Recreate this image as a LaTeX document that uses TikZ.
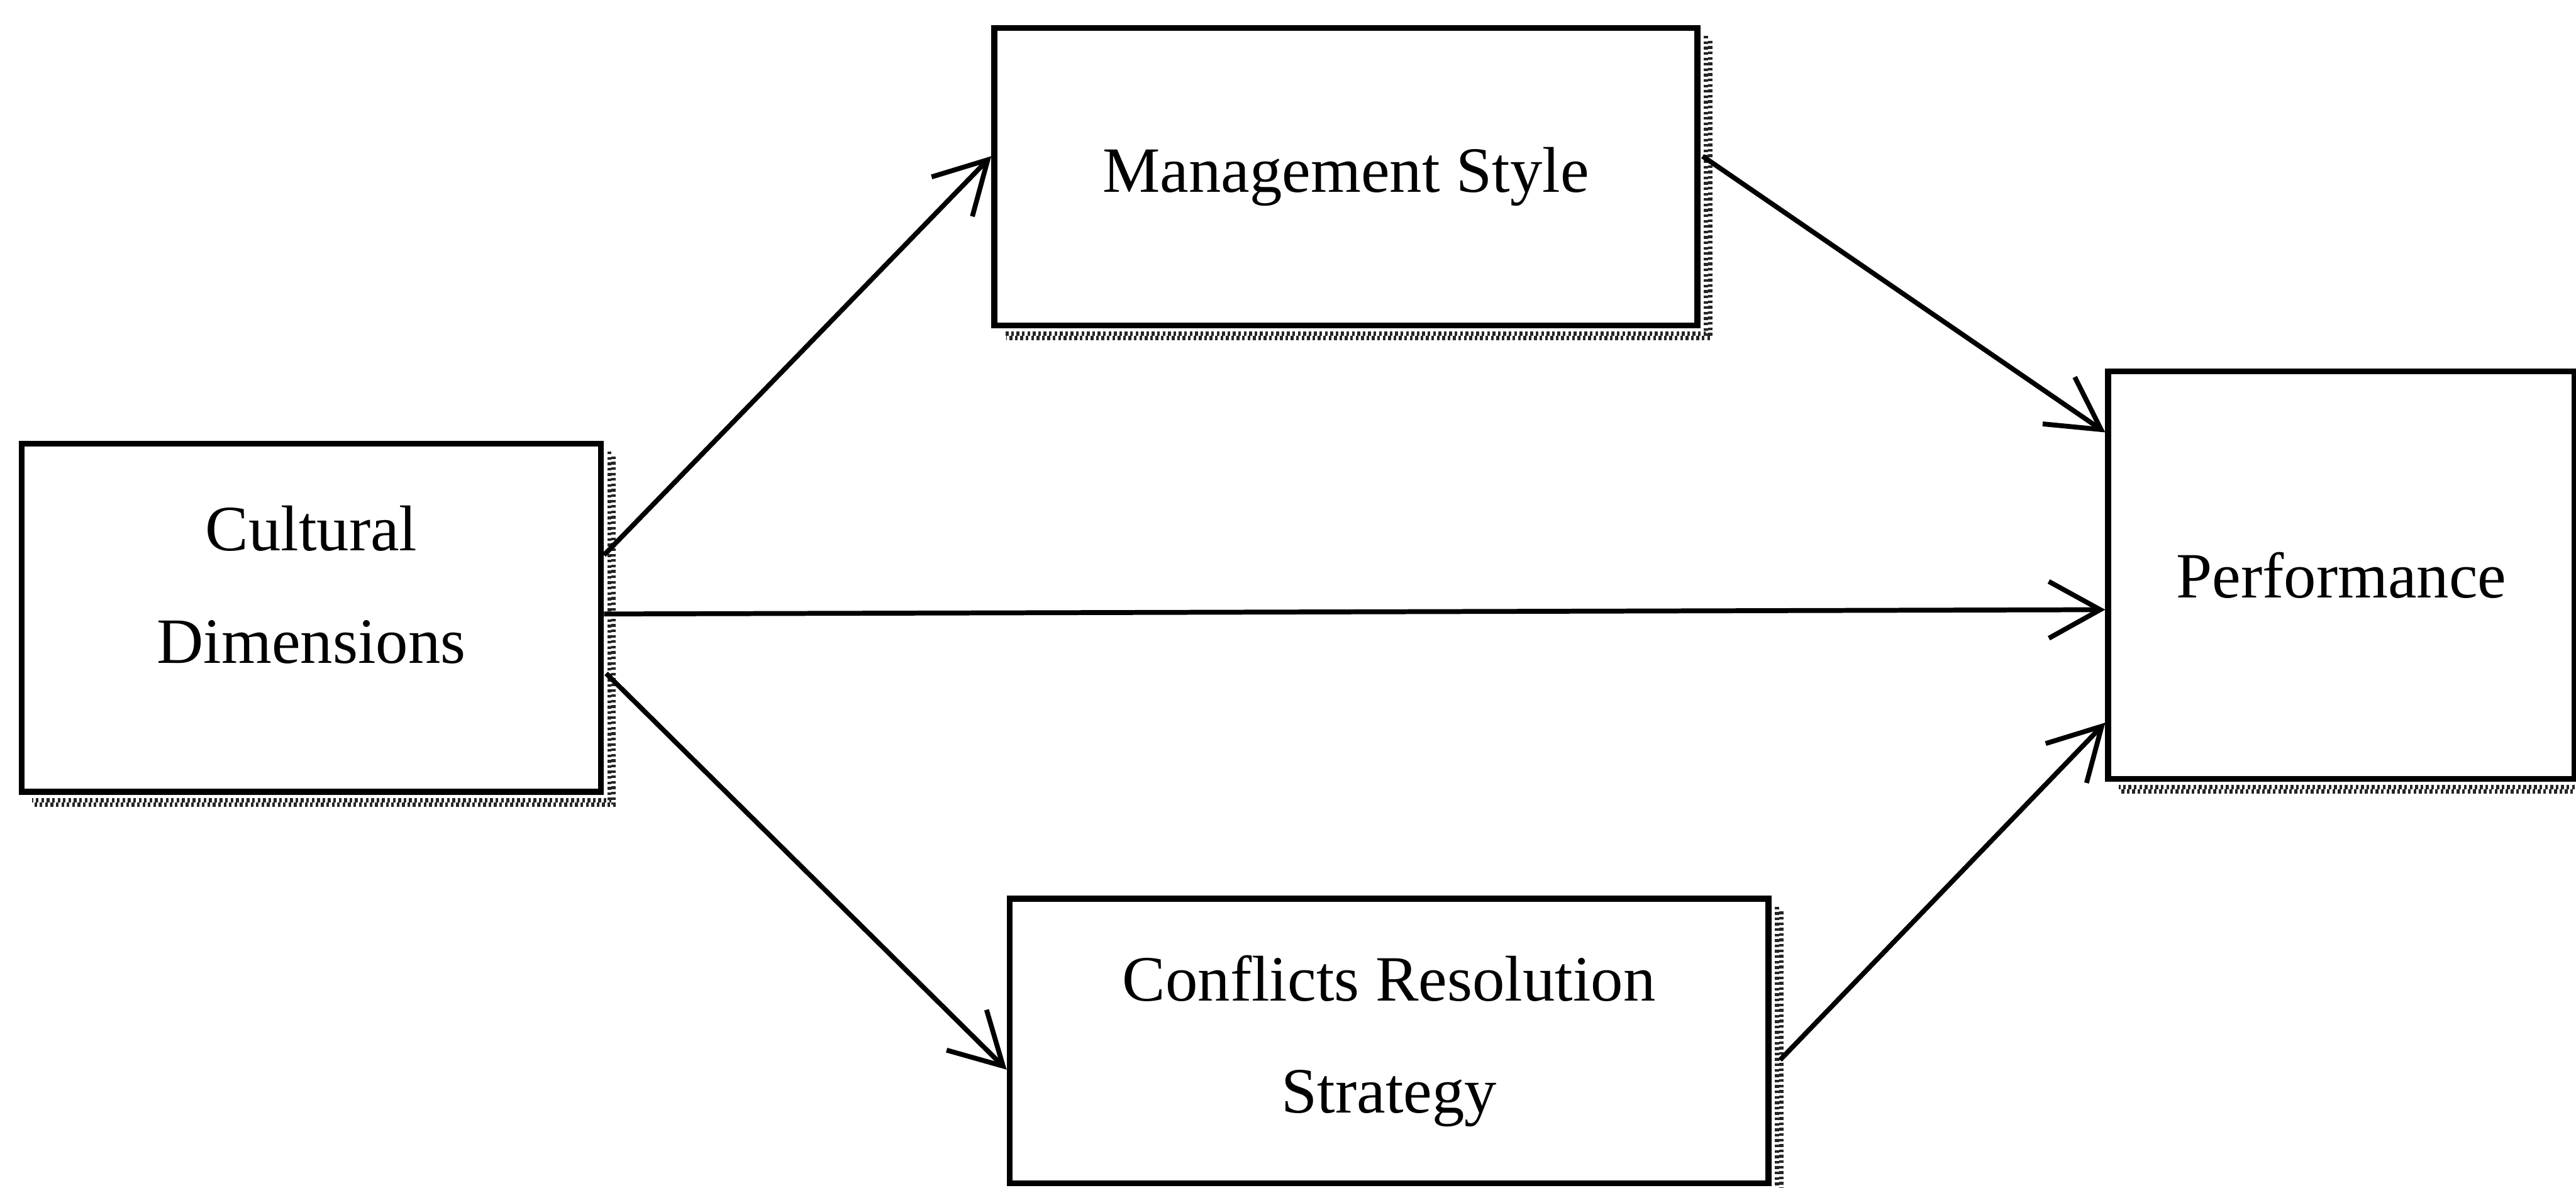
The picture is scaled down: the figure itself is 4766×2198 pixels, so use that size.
\documentclass[tikz,border=0pt]{standalone}
\usepackage{fontspec}
\setmainfont{Liberation Serif}
\usetikzlibrary{arrows.meta,calc}
\tikzset{
  box/.style={draw=black, line width=0.11cm, rectangle, inner sep=0pt, align=center,
    font=\fontsize{34}{59}\selectfont},
  lbl/.style={inner sep=0pt, align=center, font=\fontsize{34}{59}\selectfont},
  conn/.style={line width=0.09cm, -{Straight Barb[length=0.95cm,width=1.05cm,line width=0.09cm]}},
  shadowdots/.style={line width=0.08cm, dash pattern=on 0.05cm off 0.05cm, black!85}
}
\begin{document}
\begin{tikzpicture}[x=0.01cm,y=-0.01cm]
\useasboundingbox (0,0) rectangle (4766,2198);
% boxes
\node[box, minimum width=1072*0.01cm, minimum height=644*0.01cm] (cd) at (576,1143) {};
\node[lbl] (cdt) at (576,1082) {Cultural\\Dimensions};
\node[box, minimum width=1301*0.01cm, minimum height=550*0.01cm] (ms) at (2490,327) {Management Style};
\node[box, minimum width=863*0.01cm, minimum height=754*0.01cm] (pf) at (4332,1064) {Performance};
\node[box, minimum width=1404*0.01cm, minimum height=526*0.01cm] (cr) at (2570,1926) {Conflicts Resolution\\Strategy};
% dotted shadows
\foreach \n in {cd,ms,pf,cr}{
  \draw[shadowdots] ($(\n.north east)+(10,20)$) -- ($(\n.south east)+(10,10)$) -- ($(\n.south west)+(25,10)$);
  \draw[shadowdots, dash phase=0.05cm] ($(\n.north east)+(18,24)$) -- ($(\n.south east)+(18,18)$) -- ($(\n.south west)+(28,18)$);
}
% connectors
\draw[conn] ($(cd.east)+(0,-116)$) -- ($(ms.west)+(0,-38)$);
\draw[conn] ($(ms.east)+(4,-38)$) -- ($(pf.west)+(0,-264)$);
\draw[conn] ($(cd.east)+(0,-7)$) -- ($(pf.west)+(0,64)$);
\draw[conn] ($(cd.east)+(4,103)$) -- ($(cr.west)+(0,53)$);
\draw[conn] ($(cr.east)+(16,35)$) -- ($(pf.west)+(0,273)$);
\end{tikzpicture}
\end{document}
